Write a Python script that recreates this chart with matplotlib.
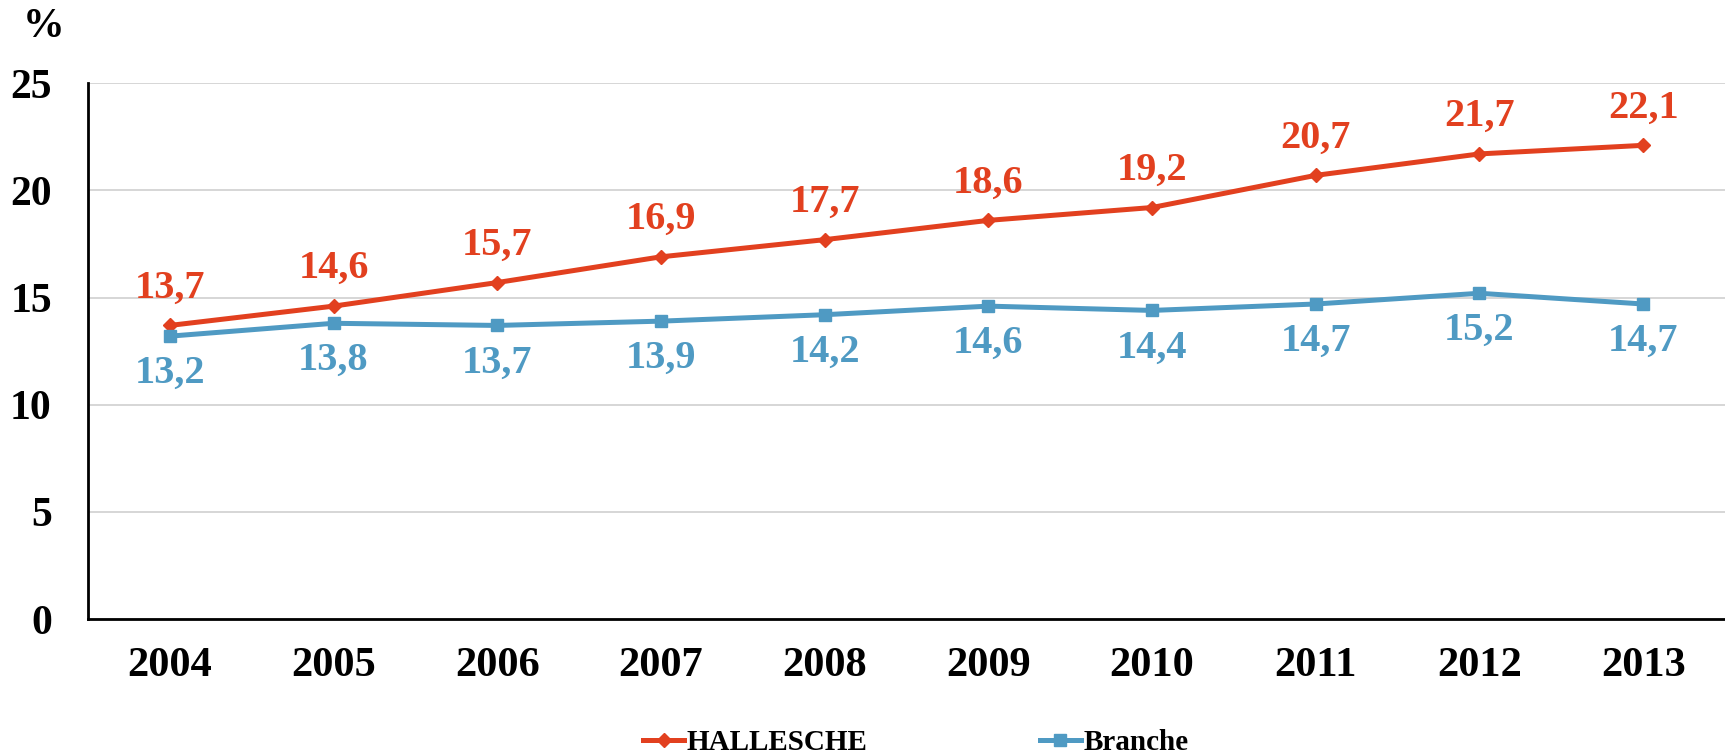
import matplotlib.pyplot as plt
import numpy as np

# datos
anios = ['2004', '2005', '2006', '2007', '2008', '2009', '2010', '2011', '2012', '2013']
halle = [13.7, 14.6, 15.7, 16.9, 17.7, 18.6, 19.2, 20.7, 21.7, 22.1]
branche = [13.2, 13.8, 13.7, 13.9, 14.2, 14.6, 14.4, 14.7, 15.2, 14.7]
yticks = [0, 5, 10, 15, 20, 25]

rojo = '#E2401F'
azul = '#4F9AC3'

plt.rcParams['font.family'] = ['Liberation Serif', 'DejaVu Serif']
plt.rcParams['font.weight'] = 'bold'

fig = plt.figure(figsize=(17.25, 7.56), dpi=100)
ax = fig.add_axes([0.051, 0.181, 0.949, 0.709])

x = np.arange(len(anios))
l1, = ax.plot(x, halle, color=rojo, lw=3.6, marker='D', ms=7, label='HALLESCHE')
l2, = ax.plot(x, branche, color=azul, lw=3.6, marker='s', ms=8.5, label='Branche')

# etiquetas de datos
for xi, v in zip(x, halle):
    ax.annotate(f'{v:.1f}'.replace('.', ','), (xi, v), xytext=(0, 27), textcoords='offset points',
                ha='center', va='center', color=rojo, fontsize=29, fontweight='bold')
for xi, v in zip(x, branche):
    ax.annotate(f'{v:.1f}'.replace('.', ','), (xi, v), xytext=(0, -27), textcoords='offset points',
                ha='center', va='center', color=azul, fontsize=29, fontweight='bold')

ax.set_xlim(-0.5, len(anios) - 0.5)
ax.set_ylim(0, 25)
ax.set_xticks(x)
ax.set_xticklabels(anios, fontsize=30.5, fontweight='bold')
ax.set_yticks(yticks)
ax.set_yticklabels([str(t) for t in yticks], fontsize=30, fontweight='bold')
ax.tick_params(axis='both', length=0)
ax.tick_params(axis='y', pad=26)
ax.tick_params(axis='x', pad=20)

ax.grid(axis='y', color='#d0d0d0', lw=1.2)
ax.set_axisbelow(True)
for s in ['top', 'right']:
    ax.spines[s].set_visible(False)
for s in ['left', 'bottom']:
    ax.spines[s].set_linewidth(2)
    ax.spines[s].set_color('black')

fig.text(0.0255, 0.964, '%', fontsize=30, fontweight='bold', ha='center', va='center')

fig.legend(handles=[l1, l2], loc='center', bbox_to_anchor=(0.531, 0.018), ncol=2, frameon=False,
           handlelength=1.4, handletextpad=0.1, columnspacing=5.9,
           prop={'weight': 'bold', 'size': 21})

fig.savefig('out.png', dpi=100)
